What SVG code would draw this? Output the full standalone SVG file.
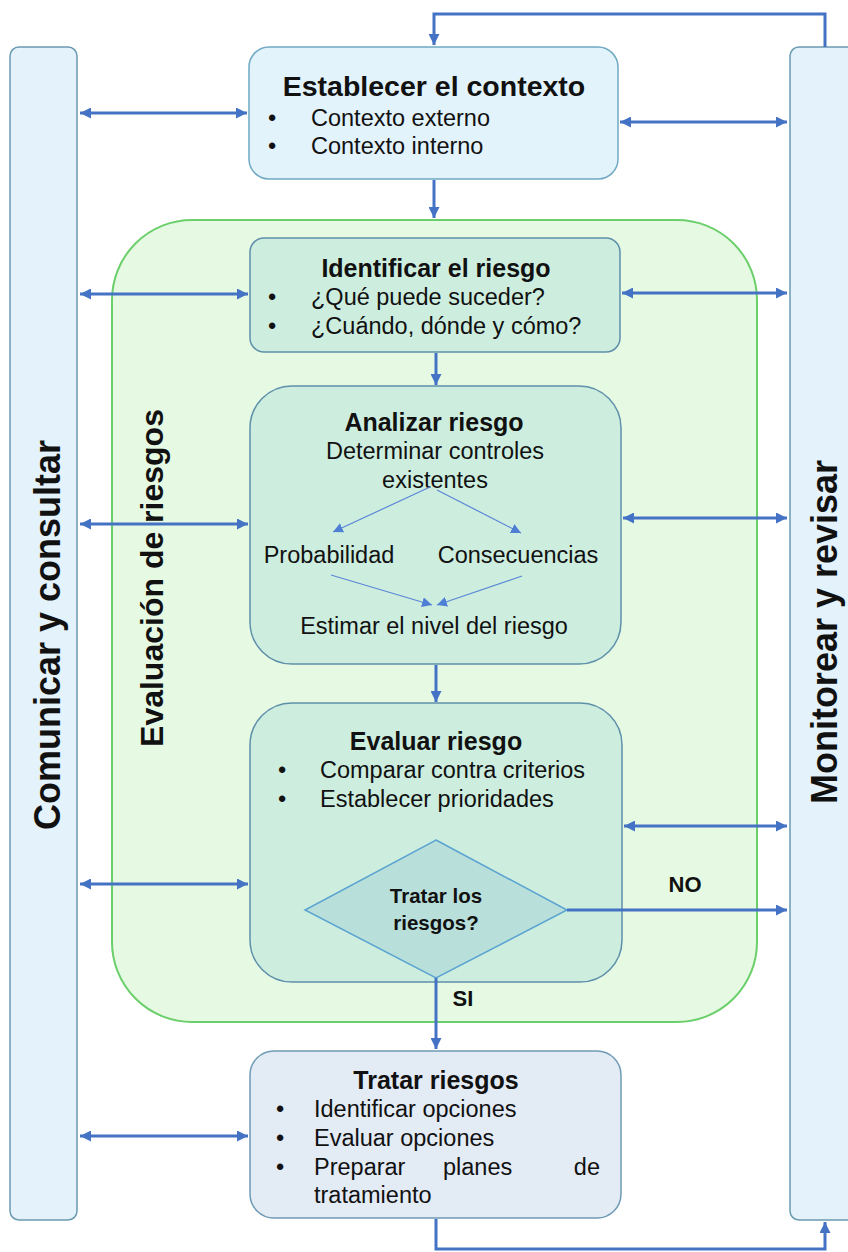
<svg xmlns="http://www.w3.org/2000/svg" width="848" height="1252" viewBox="0 0 848 1252">
<defs>
<style>
.bar{fill:#e3f2fb;stroke:#6b9bb0;stroke-width:1.5}
.ctx{fill:#e3f3fb;stroke:#6fa9c4;stroke-width:1.5}
.step{fill:#cdeedf;stroke:#5f90aa;stroke-width:1.5}
.treat{fill:#e3ebf5;stroke:#6f9ab5;stroke-width:1.5}
.green{fill:#e6f9e3;stroke:#6bcf6b;stroke-width:2}
.dia{fill:#b9dfdb;stroke:#5ba3d0;stroke-width:1.5}
.t{font-family:"Liberation Sans",Arial,sans-serif;fill:#111}
.title{font-size:25px;font-weight:bold;text-anchor:middle}
.body{font-size:23.5px}
.mid{text-anchor:middle}
.vert{font-size:36px;font-weight:bold;text-anchor:middle}
.lbl{font-size:22px;font-weight:bold;text-anchor:middle}
.c{fill:none;stroke:#4472c4;stroke-width:3}
.ci{fill:none;stroke:#5b86d6;stroke-width:1.2}
</style>
<marker id="ah" viewBox="0 0 10 10" refX="10" refY="5" markerUnits="userSpaceOnUse" markerWidth="11" markerHeight="11" orient="auto-start-reverse">
<path d="M0,0 L10,5 L0,10 z" fill="#4472c4"/>
</marker>
<marker id="ahs" viewBox="0 0 10 10" refX="10" refY="5" markerUnits="userSpaceOnUse" markerWidth="10" markerHeight="10" orient="auto">
<path d="M0,0 L10,5 L0,10 z" fill="#4f7fd4"/>
</marker>
</defs>
<rect width="848" height="1252" fill="#ffffff"/>

<g id="comunicar">
<rect class="bar" x="10" y="47" width="67" height="1173" rx="9"/>
<text class="t vert" transform="translate(60,635) rotate(-90)">Comunicar y consultar</text>
</g>

<g id="monitorear">
<rect class="bar" x="790" y="47" width="72" height="1173" rx="9"/>
<text class="t vert" transform="translate(837,632) rotate(-90)">Monitorear y revisar</text>
</g>

<g id="evaluacion-riesgos">
<rect class="green" x="112" y="220" width="645" height="802" rx="80"/>
<text class="t" transform="translate(163,578) rotate(-90)" style="font-size:32px;font-weight:bold;text-anchor:middle">Evaluación de riesgos</text>
</g>

<g id="establecer">
<rect class="ctx" x="249" y="47" width="369" height="132" rx="20"/>
<text class="t" x="434" y="96" style="font-size:28.5px;font-weight:bold;text-anchor:middle">Establecer el contexto</text>
<text class="t body" x="268" y="126">•</text>
<text class="t body" x="311" y="126">Contexto externo</text>
<text class="t body" x="268" y="154">•</text>
<text class="t body" x="311" y="154">Contexto interno</text>
</g>

<g id="identificar">
<rect class="step" x="250" y="238" width="370" height="114" rx="14"/>
<text class="t title" x="436" y="277">Identificar el riesgo</text>
<text class="t body" x="268" y="305">•</text>
<text class="t body" x="311" y="305">¿Qué puede suceder?</text>
<text class="t body" x="268" y="334">•</text>
<text class="t body" x="311" y="334">¿Cuándo, dónde y cómo?</text>
</g>

<g id="analizar">
<rect class="step" x="250" y="386" width="371" height="278" rx="42"/>
<text class="t title" x="434" y="431">Analizar riesgo</text>
<text class="t body mid" x="435" y="459">Determinar controles</text>
<text class="t body mid" x="435" y="488">existentes</text>
<text class="t body mid" x="329" y="563">Probabilidad</text>
<text class="t body mid" x="518" y="563">Consecuencias</text>
<text class="t body mid" x="434" y="634">Estimar el nivel del riesgo</text>
<path class="ci" d="M430,487 L333,532" marker-end="url(#ahs)"/>
<path class="ci" d="M437,490 L521,533" marker-end="url(#ahs)"/>
<path class="ci" d="M331,575 L432,605" marker-end="url(#ahs)"/>
<path class="ci" d="M522,576 L437,605" marker-end="url(#ahs)"/>
</g>

<g id="evaluar">
<rect class="step" x="250" y="703" width="372" height="279" rx="42"/>
<text class="t title" x="436" y="750">Evaluar riesgo</text>
<text class="t body" x="278" y="778">•</text>
<text class="t body" x="320" y="778">Comparar contra criterios</text>
<text class="t body" x="278" y="807">•</text>
<text class="t body" x="320" y="807">Establecer prioridades</text>
</g>

<g id="decision">
<polygon class="dia" points="436,840 567,910 436,978 305,910"/>
<text class="t" x="436" y="903" style="font-size:20.5px;font-weight:bold;text-anchor:middle">Tratar los</text>
<text class="t" x="436" y="930" style="font-size:20.5px;font-weight:bold;text-anchor:middle">riesgos?</text>
</g>

<g id="tratar">
<rect class="treat" x="250" y="1051" width="371" height="167" rx="24"/>
<text class="t title" x="436" y="1089">Tratar riesgos</text>
<text class="t body" x="276" y="1117">•</text>
<text class="t body" x="314" y="1117">Identificar opciones</text>
<text class="t body" x="276" y="1146">•</text>
<text class="t body" x="314" y="1146">Evaluar opciones</text>
<text class="t body" x="276" y="1175">•</text>
<text class="t body" x="314" y="1175">Preparar</text>
<text class="t body" x="443" y="1175">planes</text>
<text class="t body" x="600" y="1175" style="text-anchor:end">de</text>
<text class="t body" x="314" y="1203">tratamiento</text>
</g>

<g id="connectors">
<path class="c" d="M825,47 V14 H434 V45" marker-end="url(#ah)"/>
<path class="c" d="M434,180 V218" marker-end="url(#ah)"/>
<path class="c" d="M80,113 H247" marker-start="url(#ah)" marker-end="url(#ah)"/>
<path class="c" d="M620,122 H787" marker-start="url(#ah)" marker-end="url(#ah)"/>
<path class="c" d="M80,294 H248" marker-start="url(#ah)" marker-end="url(#ah)"/>
<path class="c" d="M622,293 H787" marker-start="url(#ah)" marker-end="url(#ah)"/>
<path class="c" d="M436,353 V385" marker-end="url(#ah)"/>
<path class="c" d="M80,524 H248" marker-start="url(#ah)" marker-end="url(#ah)"/>
<path class="c" d="M623,518 H787" marker-start="url(#ah)" marker-end="url(#ah)"/>
<path class="c" d="M436,665 V702" marker-end="url(#ah)"/>
<path class="c" d="M80,884 H248" marker-start="url(#ah)" marker-end="url(#ah)"/>
<path class="c" d="M624,826 H787" marker-start="url(#ah)" marker-end="url(#ah)"/>
<path class="c" d="M567,910 H787" marker-end="url(#ah)"/>
<path class="c" d="M436,978 V1049" marker-end="url(#ah)"/>
<path class="c" d="M80,1136 H248" marker-start="url(#ah)" marker-end="url(#ah)"/>
<path class="c" d="M436,1219 V1249 H825 V1222" marker-end="url(#ah)"/>
<text class="t lbl" x="685" y="892">NO</text>
<text class="t lbl" x="463" y="1006">SI</text>
</g>
</svg>
